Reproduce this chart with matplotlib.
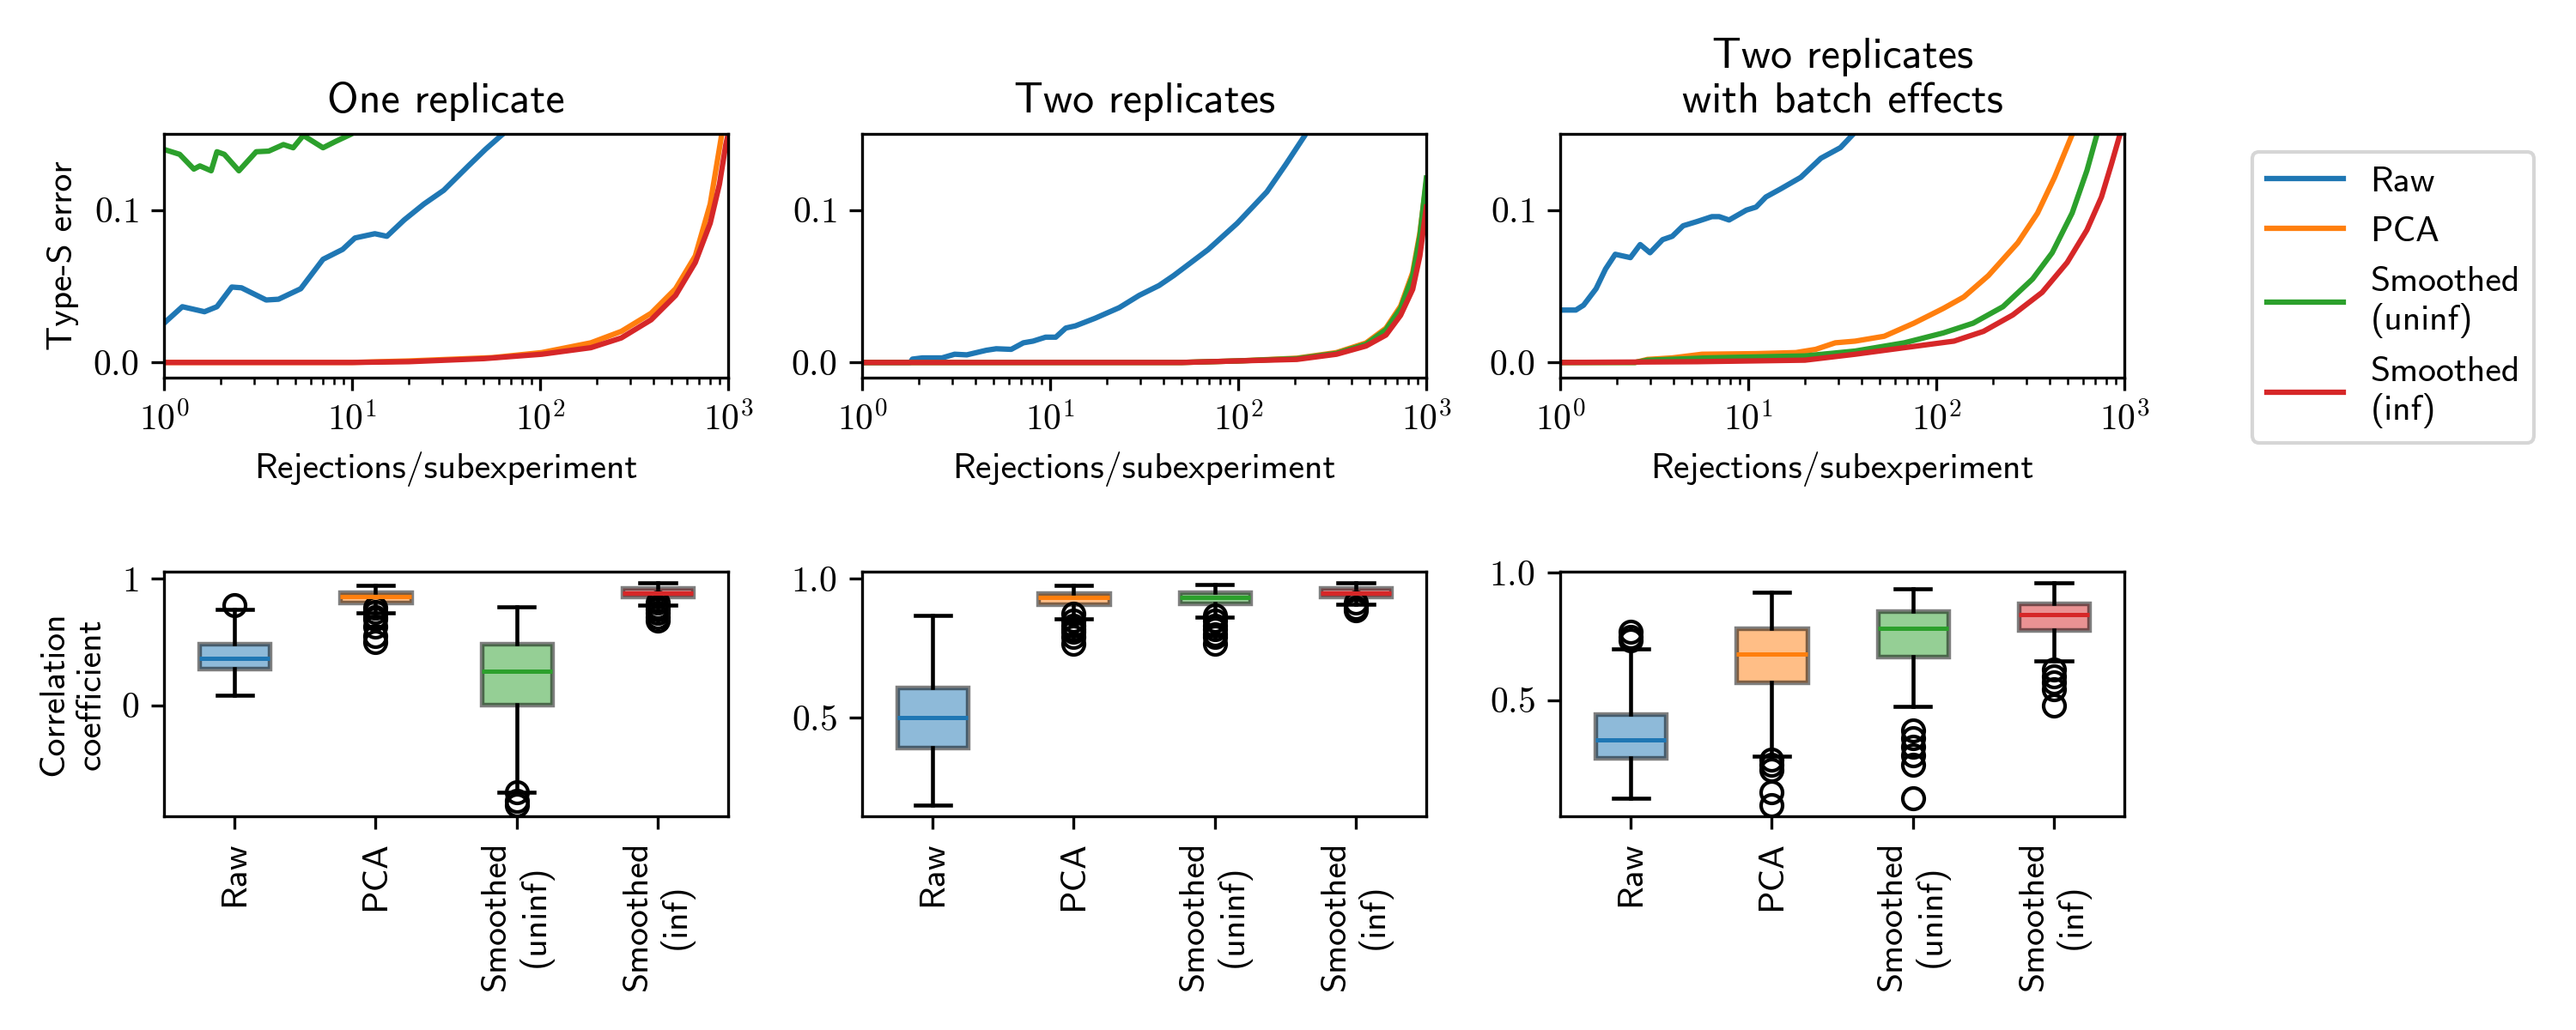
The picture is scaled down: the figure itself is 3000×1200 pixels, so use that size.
import numpy as np
import matplotlib
matplotlib.use("Agg")
import matplotlib.pyplot as plt
from matplotlib.ticker import FuncFormatter, NullFormatter

plt.rcParams['font.family'] = ['cmss10', 'DejaVu Sans']
plt.rcParams['mathtext.fontset'] = 'cm'
plt.rcParams['axes.unicode_minus'] = False
plt.rcParams['axes.formatter.use_mathtext'] = True

# ---------------- data ----------------
methods = ["Raw", "PCA", "Smoothed\n(uninf)", "Smoothed\n(inf)"]
colors = ["#1f77b4", "#ff7f0e", "#2ca02c", "#d62728"]
titles = ["One replicate", "Two replicates", "Two replicates\nwith batch effects"]

# Panel 1: one replicate (Type-S error vs rejections/subexperiment)
one_raw_x = [1, 1.25, 1.64, 1.91, 2.29, 2.58, 3.49, 4.06, 5.33, 7.0, 8.9, 10.35, 13.2, 15.3,
             18.9, 24.1, 30.7, 41.5, 51.3, 63.4, 72]
one_raw_y = [0.0258, 0.0366, 0.0333, 0.0366, 0.0495, 0.049, 0.041, 0.0415, 0.0484, 0.0677,
             0.0742, 0.0817, 0.0845, 0.0828, 0.0935, 0.104, 0.113, 0.129, 0.140, 0.150, 0.156]
one_pca_x = [1, 10, 20, 56, 102, 186, 270, 389, 525, 668, 802, 916, 960]
one_pca_y = [0, 0, 0.001, 0.0032, 0.0065, 0.0129, 0.0204, 0.0323, 0.0484, 0.0699, 0.104, 0.147, 0.165]
one_unf_x = [1, 1.21, 1.44, 1.55, 1.78, 1.91, 2.09, 2.5, 3.09, 3.6, 4.31, 4.86, 5.5, 7.0,
             8.15, 9.75, 11.0, 12.5]
one_unf_y = [0.1398, 0.1366, 0.1269, 0.129, 0.1258, 0.1383, 0.1366, 0.1258, 0.1383, 0.1387,
             0.143, 0.1409, 0.149, 0.1409, 0.145, 0.1495, 0.153, 0.157]
one_inf_x = [1, 10, 20, 50, 102, 186, 270, 389, 525, 668, 802, 898, 971, 1000]
one_inf_y = [0, 0, 0.0005, 0.0025, 0.0054, 0.0097, 0.0161, 0.028, 0.044, 0.0656, 0.0914,
             0.117, 0.143, 0.150]

# Panel 2: two replicates
two_raw_x = [1, 1.8, 1.85, 2.09, 2.66, 3.1, 3.6, 4.57, 5.16, 6.2, 7.2, 8.1, 9.45, 10.7, 12.1,
             13.6, 17.3, 23.3, 29.7, 37.9, 45.3, 69, 98.8, 142, 179, 226, 240]
two_raw_y = [0, 0, 0.0022, 0.003, 0.003, 0.0054, 0.005, 0.008, 0.009, 0.0086, 0.0129, 0.014,
             0.0166, 0.0166, 0.0226, 0.024, 0.029, 0.036, 0.044, 0.0505, 0.057, 0.074, 0.0914,
             0.112, 0.130, 0.149, 0.156]
two_x = [1, 50, 99, 205, 333, 478, 610, 730, 846, 924, 1000]
two_pca_y = [0, 0, 0.001, 0.0028, 0.0065, 0.0128, 0.0225, 0.037, 0.059, 0.085, 0.118]
two_unf_y = [0, 0, 0.001, 0.0025, 0.006, 0.012, 0.0215, 0.0355, 0.057, 0.083, 0.121]
two_inf_y = [0, 0, 0.001, 0.002, 0.0054, 0.0108, 0.018, 0.031, 0.048, 0.070, 0.102]

# Panel 3: two replicates with batch effects
bat_raw_x = [1, 1.21, 1.33, 1.55, 1.74, 1.96, 2.36, 2.66, 3.0, 3.5, 3.94, 4.5, 5.34, 6.4, 7.0,
             7.9, 9.77, 11.0, 12.4, 14.9, 19.0, 24.3, 30.9, 35.9, 38.1]
bat_raw_y = [0.0344, 0.0344, 0.0376, 0.0484, 0.0613, 0.071, 0.0688, 0.0774, 0.072, 0.0806,
             0.0828, 0.0897, 0.0925, 0.0957, 0.0957, 0.0935, 0.100, 0.102, 0.1086, 0.114,
             0.1215, 0.134, 0.141, 0.1495, 0.153]
bat_pca_x = [1, 2.5, 2.91, 3.94, 5.67, 11, 17.9, 22.8, 29, 37, 52.8, 76, 109, 140, 189, 271,
             345, 425, 527, 560]
bat_pca_y = [0, 0, 0.002, 0.003, 0.0054, 0.0058, 0.0065, 0.0086, 0.0129, 0.014, 0.0172, 0.0258,
             0.0355, 0.043, 0.057, 0.0785, 0.098, 0.1215, 0.1495, 0.158]
bat_unf_x = [1, 2.5, 2.91, 6, 20, 37, 67.6, 109, 157, 226, 325, 413, 527, 632, 714, 750]
bat_unf_y = [0, 0, 0.0015, 0.003, 0.0043, 0.0075, 0.0129, 0.0194, 0.0258, 0.0366, 0.0548,
             0.072, 0.098, 0.126, 0.1495, 0.158]
bat_inf_x = [1, 5.34, 20, 37, 67.6, 124, 178, 255, 365, 496, 632, 755, 852, 935, 980]
bat_inf_y = [0, 0.0005, 0.0015, 0.0054, 0.0097, 0.014, 0.0204, 0.0312, 0.046, 0.0656, 0.087,
             0.1086, 0.130, 0.1473, 0.156]

# Box statistics (correlation coefficient): med, q1, q3, whislo, whishi, fliers
one_med = [0.371, 0.857, 0.27, 0.89]
one_q1 = [0.288, 0.813, 0.0026, 0.857]
one_q3 = [0.488, 0.896, 0.488, 0.925]
one_lo = [0.078, 0.73, -0.688, 0.795]
one_hi = [0.756, 0.948, 0.777, 0.969]
one_fl = [[0.795], [0.774, 0.74, 0.70, 0.68, 0.62, 0.55, 0.50], [-0.69, -0.758, -0.792],
          [0.81, 0.78, 0.76, 0.73, 0.70, 0.67]]

two_med = [0.5, 0.933, 0.933, 0.95]
two_q1 = [0.393, 0.909, 0.911, 0.935]
two_q3 = [0.6085, 0.950, 0.953, 0.966]
two_lo = [0.1863, 0.856, 0.862, 0.909]
two_hi = [0.868, 0.976, 0.98, 0.986]
two_fl = [[], [0.874, 0.85, 0.833, 0.82, 0.809, 0.79, 0.766],
          [0.87, 0.85, 0.83, 0.82, 0.80, 0.79, 0.767], [0.915, 0.897, 0.886]]

bat_med = [0.343, 0.682, 0.781, 0.836]
bat_q1 = [0.272, 0.571, 0.669, 0.774]
bat_q3 = [0.446, 0.781, 0.848, 0.880]
bat_lo = [0.115, 0.281, 0.474, 0.652]
bat_hi = [0.701, 0.923, 0.936, 0.960]
bat_fl = [[0.768, 0.749, 0.736], [0.265, 0.246, 0.227, 0.137, 0.088],
          [0.381, 0.349, 0.317, 0.285, 0.246, 0.115], [0.62, 0.594, 0.568, 0.543, 0.48]]

# ---------------- figure ----------------
fig = plt.figure(figsize=(10, 4), dpi=300)
lefts = [0.0637, 0.3347, 0.6057]
w = 0.219
top_axes = [fig.add_axes([l, 0.6333, w, 0.2367]) for l in lefts]
bot_axes = [fig.add_axes([l, 0.2075, w, 0.2375]) for l in lefts]

line_sets = [
    [(one_raw_x, one_raw_y), (one_pca_x, one_pca_y), (one_unf_x, one_unf_y), (one_inf_x, one_inf_y)],
    [(two_raw_x, two_raw_y), (two_x, two_pca_y), (two_x, two_unf_y), (two_x, two_inf_y)],
    [(bat_raw_x, bat_raw_y), (bat_pca_x, bat_pca_y), (bat_unf_x, bat_unf_y), (bat_inf_x, bat_inf_y)],
]

TICK_FS = 10
LABEL_FS = 10
TITLE_FS = 12

logfmt = FuncFormatter(lambda v, p: r'$10^{%d}$' % int(round(np.log10(v))))
yfmt = FuncFormatter(lambda v, p: r'$%.1f$' % v)

handles = []
for i, ax in enumerate(top_axes):
    for j, (xs, ys) in enumerate(line_sets[i]):
        ln, = ax.plot(xs, ys, color=colors[j], lw=1.5)
        if i == 0:
            handles.append(ln)
    ax.set_xscale('log')
    ax.set_xlim(1, 1000)
    ax.set_ylim(-0.01, 0.15)
    ax.set_yticks([0.0, 0.1])
    ax.yaxis.set_major_formatter(yfmt)
    ax.xaxis.set_major_formatter(logfmt)
    ax.xaxis.set_minor_formatter(NullFormatter())
    ax.tick_params(labelsize=TICK_FS)
    ax.set_xlabel("Rejections/subexperiment", fontsize=LABEL_FS)
    ax.set_title(titles[i], fontsize=TITLE_FS)
top_axes[0].set_ylabel("Type-S error", fontsize=LABEL_FS)

box_data = [
    (one_med, one_q1, one_q3, one_lo, one_hi, one_fl, [0, 1], r'$%d$'),
    (two_med, two_q1, two_q3, two_lo, two_hi, two_fl, [0.5, 1.0], r'$%.1f$'),
    (bat_med, bat_q1, bat_q3, bat_lo, bat_hi, bat_fl, [0.5, 1.0], r'$%.1f$'),
]
for i, ax in enumerate(bot_axes):
    med, q1, q3, lo, hi, fl, yt, fmt = box_data[i]
    stats = []
    for k in range(4):
        stats.append(dict(med=med[k], q1=q1[k], q3=q3[k], whislo=lo[k], whishi=hi[k],
                          fliers=fl[k], label=methods[k]))
    bp = ax.bxp(stats, patch_artist=True, widths=0.5,
                whiskerprops=dict(color='black', lw=1.1),
                capprops=dict(color='black', lw=1.1),
                flierprops=dict(marker='o', markerfacecolor='none', markeredgecolor='black',
                                markersize=6, markeredgewidth=1.0),
                boxprops=dict(lw=1.3))
    for k, b in enumerate(bp['boxes']):
        b.set_facecolor(colors[k])
        b.set_edgecolor('black')
        b.set_alpha(0.5)
    for k, m in enumerate(bp['medians']):
        m.set_color(colors[k])
        m.set_linewidth(1.2)
    ax.set_yticks(yt)
    ax.yaxis.set_major_formatter(FuncFormatter(lambda v, p, f=fmt: f % v))
    ax.tick_params(axis='y', labelsize=TICK_FS)
    ax.tick_params(axis='x', labelrotation=90, labelsize=LABEL_FS)
bot_axes[0].set_ylabel("Correlation\ncoefficient", fontsize=LABEL_FS)

fig.legend(handles, methods, loc='upper left', bbox_to_anchor=(0.8743, 0.8525),
           borderaxespad=0, fontsize=LABEL_FS, frameon=True,
           handlelength=2.15, handletextpad=0.75)

fig.savefig("out.png", dpi=300)
